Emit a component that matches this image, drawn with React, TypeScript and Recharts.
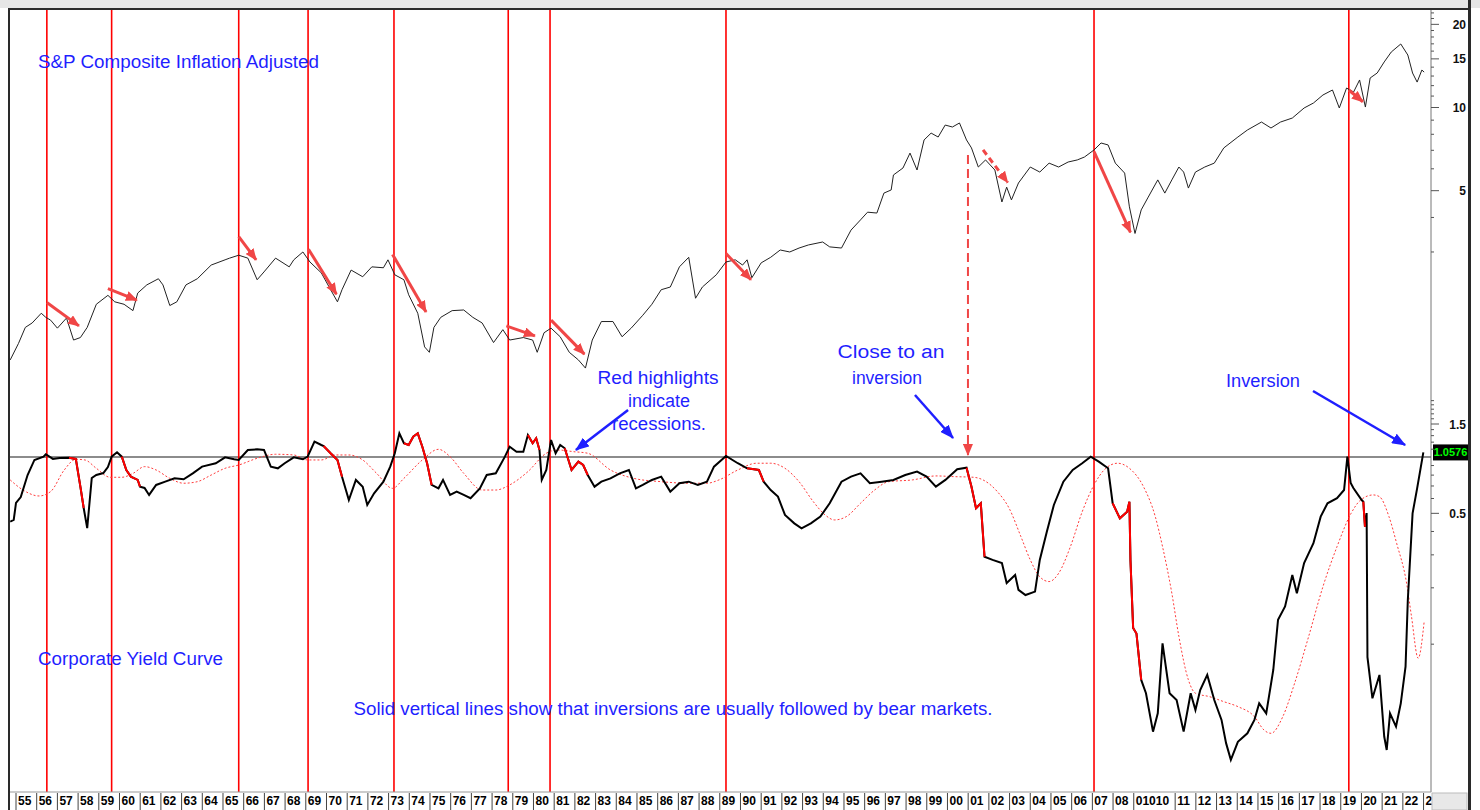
import React from "react";
import { ComposedChart, Line, XAxis, YAxis, ReferenceLine } from "recharts";

const FONT = "'Liberation Sans', Arial, Helvetica, sans-serif";
const W = 1480;
const H = 810;
const MARGIN = { top: 10, right: 0, bottom: 0, left: 10 };
const X_AXIS_H = 18;
const YIELD_AXIS_W = 40;
const PRICE_AXIS_W = 9;
const PLOT_RIGHT = W - MARGIN.right - YIELD_AXIS_W - PRICE_AXIS_W;
const PLOT_BOTTOM = H - MARGIN.bottom - X_AXIS_H;

const X_DOMAIN: [number, number] = [1954.71, 2023.36];
const PRICE_DOMAIN: [number, number] = [0.0333, 22.54];
const YIELD_DOMAIN: [number, number] = [0.01623, 244.2];

// S&P Composite, inflation adjusted: [year, value]
const spComposite: [number, number][] = [
  [1954.72, 1.22], [1955.12, 1.40], [1955.45, 1.60], [1955.78, 1.66], [1956.22, 1.80], [1956.44, 1.74],
  [1956.67, 1.70], [1957.00, 1.59], [1957.44, 1.73], [1957.78, 1.44], [1958.11, 1.47], [1958.44, 1.60],
  [1958.88, 1.94], [1959.44, 2.09], [1959.77, 1.98], [1960.22, 1.94], [1960.65, 1.84], [1960.88, 2.13],
  [1961.32, 2.28], [1961.88, 2.40], [1962.10, 2.28], [1962.43, 1.92], [1962.77, 1.98], [1963.21, 2.28],
  [1963.76, 2.40], [1964.43, 2.69], [1965.10, 2.81], [1965.32, 2.85], [1965.76, 2.92], [1966.20, 2.85],
  [1966.65, 2.38], [1966.98, 2.54], [1967.54, 2.85], [1968.20, 2.65], [1968.42, 2.81], [1968.86, 3.00],
  [1969.20, 2.76], [1969.75, 2.52], [1970.20, 2.19], [1970.53, 1.98], [1970.75, 2.19], [1971.19, 2.58],
  [1971.75, 2.44], [1972.19, 2.65], [1972.75, 2.63], [1972.97, 2.81], [1973.30, 2.48], [1973.74, 2.38],
  [1973.97, 2.10], [1974.41, 1.80], [1974.74, 1.36], [1974.97, 1.30], [1975.19, 1.60], [1975.52, 1.74],
  [1976.07, 1.84], [1976.63, 1.85], [1977.07, 1.74], [1977.52, 1.66], [1978.07, 1.41], [1978.52, 1.57],
  [1978.85, 1.44], [1979.51, 1.47], [1979.96, 1.44], [1980.18, 1.30], [1980.51, 1.53], [1980.85, 1.59],
  [1981.29, 1.48], [1981.73, 1.30], [1982.17, 1.22], [1982.51, 1.14], [1982.84, 1.44], [1983.28, 1.68],
  [1983.84, 1.68], [1984.28, 1.48], [1984.72, 1.59], [1985.28, 1.77], [1985.72, 1.94], [1986.17, 2.19],
  [1986.61, 2.24], [1987.05, 2.65], [1987.50, 2.87], [1987.83, 2.04], [1988.16, 2.24], [1988.83, 2.48],
  [1989.30, 2.76], [1989.75, 2.81], [1990.10, 2.69], [1990.32, 2.81], [1990.55, 2.42], [1991.00, 2.74],
  [1991.46, 2.87], [1991.92, 3.05], [1992.38, 3.00], [1992.83, 3.10], [1993.28, 3.18], [1993.97, 3.26],
  [1994.31, 3.13], [1994.88, 3.10], [1995.34, 3.60], [1995.80, 3.92], [1996.14, 4.18], [1996.59, 4.15],
  [1996.93, 4.90], [1997.28, 5.03], [1997.39, 5.70], [1997.85, 6.04], [1998.19, 6.84], [1998.53, 5.94],
  [1998.87, 7.63], [1999.21, 8.08], [1999.55, 7.82], [1999.89, 8.64], [2000.24, 8.50], [2000.58, 8.79],
  [2000.92, 7.63], [2001.16, 7.14], [2001.49, 6.09], [2001.84, 6.46], [2002.29, 5.94], [2002.63, 4.55],
  [2002.86, 5.15], [2003.09, 4.63], [2003.43, 5.33], [2004.00, 6.09], [2004.46, 5.84], [2004.91, 6.29],
  [2005.37, 6.09], [2005.83, 6.35], [2006.27, 6.46], [2006.62, 6.62], [2007.08, 7.02], [2007.42, 7.44],
  [2007.76, 7.32], [2008.11, 6.29], [2008.56, 5.79], [2008.79, 4.37], [2009.06, 3.50], [2009.36, 4.26],
  [2009.70, 4.74], [2010.16, 5.47], [2010.50, 4.90], [2010.84, 5.47], [2011.18, 6.09], [2011.41, 5.84],
  [2011.64, 5.11], [2011.98, 5.84], [2012.43, 6.09], [2012.89, 6.29], [2013.35, 7.14], [2014.03, 7.82],
  [2014.49, 8.29], [2015.17, 8.86], [2015.63, 8.43], [2016.09, 8.86], [2016.66, 9.16], [2017.23, 9.96],
  [2017.68, 10.38], [2018.14, 11.10], [2018.60, 11.57], [2018.93, 9.96], [2019.28, 11.76], [2019.62, 11.38],
  [2019.91, 12.58], [2020.19, 10.04], [2020.42, 12.79], [2020.76, 13.33], [2021.10, 14.62], [2021.44, 15.88],
  [2021.90, 16.98], [2022.24, 15.49], [2022.47, 13.33], [2022.69, 12.36], [2022.92, 13.67], [2023.03, 13.43],
];

// Corporate yield curve: [year, ratio]
const yieldCurve: [number, number][] = [
  [1954.72, 0.451], [1954.89, 0.461], [1955.00, 0.568], [1955.23, 0.611], [1955.56, 0.801], [1955.89, 0.964],
  [1956.33, 1.004], [1956.44, 1.034], [1956.78, 0.976], [1957.11, 0.988], [1957.56, 0.991], [1957.89, 0.976],
  [1958.11, 0.694], [1958.27, 0.534], [1958.44, 0.417], [1958.66, 0.772], [1958.88, 0.801], [1959.22, 0.821],
  [1959.44, 0.884], [1959.62, 1.004], [1959.88, 1.060], [1960.11, 1.004], [1960.33, 0.852], [1960.55, 0.785],
  [1960.88, 0.754], [1960.99, 0.694], [1961.21, 0.683], [1961.43, 0.627], [1961.77, 0.709], [1962.21, 0.738],
  [1962.66, 0.769], [1963.10, 0.760], [1963.54, 0.818], [1963.99, 0.888], [1964.65, 0.926], [1965.10, 0.996],
  [1965.54, 0.972], [1965.76, 0.964], [1966.20, 1.090], [1966.65, 1.099], [1966.98, 1.090], [1967.31, 0.888],
  [1967.65, 0.870], [1967.98, 0.926], [1968.42, 0.996], [1968.86, 0.972], [1969.09, 1.004], [1969.42, 1.207],
  [1969.75, 1.159], [1969.86, 1.145], [1970.20, 1.047], [1970.53, 0.964], [1970.75, 0.785], [1971.08, 0.589],
  [1971.42, 0.754], [1971.75, 0.694], [1971.97, 0.554], [1972.30, 0.640], [1972.75, 0.738], [1973.08, 0.888],
  [1973.30, 1.047], [1973.52, 1.338], [1973.74, 1.184], [1973.97, 1.159], [1974.19, 1.284], [1974.41, 1.338],
  [1974.63, 1.135], [1974.86, 0.926], [1975.08, 0.709], [1975.41, 0.680], [1975.63, 0.754], [1975.97, 0.627],
  [1976.29, 0.653], [1976.63, 0.627], [1976.96, 0.602], [1977.41, 0.680], [1977.74, 0.801], [1978.18, 0.818],
  [1978.62, 1.004], [1978.85, 1.135], [1979.18, 1.067], [1979.51, 1.067], [1979.73, 1.311], [1979.96, 1.184],
  [1980.13, 1.259], [1980.29, 1.090], [1980.40, 0.754], [1980.62, 0.852], [1980.85, 1.233], [1981.07, 1.047],
  [1981.29, 1.159], [1981.51, 1.113], [1981.84, 0.852], [1982.17, 0.944], [1982.40, 0.906], [1982.62, 0.801],
  [1982.95, 0.694], [1983.28, 0.738], [1983.72, 0.769], [1984.17, 0.818], [1984.61, 0.852], [1984.95, 0.680],
  [1985.28, 0.709], [1985.72, 0.754], [1986.17, 0.785], [1986.61, 0.653], [1987.05, 0.724], [1987.50, 0.738],
  [1987.94, 0.709], [1988.38, 0.738], [1988.72, 0.888], [1989.30, 1.012], [1989.87, 0.926], [1990.32, 0.870],
  [1990.89, 0.852], [1991.12, 0.738], [1991.46, 0.666], [1991.81, 0.614], [1992.15, 0.490], [1992.60, 0.442],
  [1992.95, 0.416], [1993.40, 0.442], [1993.86, 0.480], [1994.31, 0.566], [1994.88, 0.738], [1995.34, 0.785],
  [1995.80, 0.818], [1996.25, 0.724], [1996.82, 0.738], [1997.39, 0.754], [1997.96, 0.801], [1998.53, 0.835],
  [1998.99, 0.785], [1999.44, 0.694], [1999.90, 0.754], [2000.47, 0.860], [2000.92, 0.877], [2001.16, 0.694],
  [2001.38, 0.532], [2001.61, 0.566], [2001.79, 0.293], [2002.18, 0.282], [2002.63, 0.271], [2002.86, 0.212],
  [2003.27, 0.234], [2003.43, 0.195], [2003.77, 0.183], [2004.23, 0.191], [2004.46, 0.282], [2004.80, 0.399],
  [2005.14, 0.554], [2005.60, 0.738], [2006.05, 0.852], [2006.51, 0.926], [2006.92, 1.004], [2007.31, 0.944],
  [2007.76, 0.870], [2007.98, 0.566], [2008.33, 0.470], [2008.68, 0.510], [2008.79, 0.577], [2008.84, 0.282],
  [2008.97, 0.122], [2009.13, 0.114], [2009.36, 0.0644], [2009.59, 0.0547], [2009.93, 0.0341], [2010.16, 0.0427],
  [2010.39, 0.101], [2010.73, 0.0547], [2011.07, 0.0503], [2011.41, 0.0341], [2011.75, 0.0547], [2011.98, 0.0445],
  [2012.21, 0.0569], [2012.55, 0.0685], [2012.89, 0.0503], [2013.24, 0.0394], [2013.46, 0.0296], [2013.69, 0.0241],
  [2014.03, 0.0301], [2014.49, 0.0334], [2014.83, 0.0394], [2015.06, 0.0483], [2015.40, 0.0427], [2015.74, 0.0728],
  [2015.97, 0.135], [2016.31, 0.159], [2016.66, 0.234], [2016.88, 0.187], [2017.23, 0.271], [2017.68, 0.346],
  [2018.03, 0.480], [2018.36, 0.566], [2018.82, 0.602], [2019.16, 0.666], [2019.32, 1.004], [2019.48, 0.726],
  [2019.61, 0.683], [2020.01, 0.589], [2020.09, 0.577], [2020.17, 0.424], [2020.25, 0.502], [2020.29, 0.0853],
  [2020.53, 0.0514], [2020.87, 0.0685], [2021.10, 0.0321], [2021.22, 0.0272], [2021.38, 0.0427], [2021.67, 0.0363],
  [2021.90, 0.0483], [2022.13, 0.0758], [2022.24, 0.172], [2022.47, 0.500], [2022.69, 0.680], [2022.99, 1.0576],
];

// Smoothed yield curve (dotted red)
const yieldCurveAvg: [number, number][] = [
  [1954.72, 0.754], [1955.34, 0.666], [1956.11, 0.619], [1956.67, 0.653], [1957.33, 0.852], [1957.89, 0.972],
  [1958.33, 0.964], [1958.88, 0.870], [1959.55, 0.779], [1960.11, 0.779], [1960.66, 0.818], [1961.21, 0.888],
  [1961.77, 0.852], [1962.43, 0.769], [1963.10, 0.724], [1963.76, 0.738], [1964.43, 0.801], [1965.10, 0.870],
  [1965.76, 0.906], [1966.65, 0.984], [1967.54, 1.034], [1968.42, 1.025], [1969.09, 0.964], [1969.75, 0.964],
  [1970.42, 1.025], [1971.08, 1.025], [1971.75, 0.964], [1972.42, 0.818], [1973.19, 0.680], [1973.74, 0.769],
  [1974.63, 0.964], [1975.41, 1.099], [1975.97, 1.004], [1976.63, 0.818], [1977.52, 0.666], [1978.18, 0.666],
  [1978.85, 0.709], [1979.73, 0.835], [1980.62, 1.047], [1981.17, 1.090], [1981.95, 1.067], [1982.62, 1.047],
  [1983.72, 0.852], [1984.84, 0.769], [1986.17, 0.738], [1987.50, 0.724], [1988.38, 0.724], [1988.96, 0.754],
  [1989.87, 0.852], [1990.78, 0.926], [1991.46, 0.926], [1992.15, 0.870], [1992.83, 0.738], [1993.52, 0.577],
  [1994.09, 0.490], [1994.54, 0.461], [1995.11, 0.480], [1995.80, 0.566], [1996.48, 0.666], [1997.16, 0.738],
  [1998.30, 0.754], [1999.44, 0.792], [2000.35, 0.785], [2001.26, 0.779], [2001.72, 0.754], [2002.41, 0.653],
  [2002.98, 0.532], [2003.55, 0.375], [2004.00, 0.282], [2004.46, 0.229], [2004.91, 0.216], [2005.37, 0.239],
  [2005.94, 0.332], [2006.51, 0.510], [2007.08, 0.709], [2007.65, 0.870], [2008.22, 0.926], [2008.79, 0.870],
  [2009.47, 0.694], [2010.04, 0.480], [2010.39, 0.332], [2010.84, 0.187], [2011.18, 0.110], [2011.64, 0.0644],
  [2011.98, 0.0547], [2012.67, 0.0524], [2013.35, 0.0493], [2014.03, 0.0464], [2014.83, 0.0410], [2015.29, 0.0348],
  [2015.63, 0.0334], [2016.20, 0.0410], [2016.77, 0.0618], [2017.45, 0.110], [2018.14, 0.203], [2018.82, 0.332],
  [2019.50, 0.500], [2019.96, 0.589], [2020.57, 0.627], [2020.87, 0.614], [2021.33, 0.480], [2021.70, 0.346],
  [2022.18, 0.212], [2022.42, 0.140], [2022.74, 0.0841], [2023.03, 0.132],
];

// recession spans, highlighted red on the yield curve
const recessions: [number, number][] = [
  [1957.55, 1958.28], [1960.1, 1961.0], [1969.85, 1970.76], [1973.6, 1975.1], [1979.7, 1980.3],
  [1981.5, 1982.63], [1990.3, 1991.15], [2000.9, 2001.8], [2007.95, 2009.37], [2020.05, 2020.2],
];

// inversions -> solid red verticals
const inversions = [1956.49, 1959.62, 1965.76, 1969.11, 1973.26, 1978.78, 1980.8, 1989.3, 2007.08, 2019.39];
const nearInversion = { year: 2000.99, from: 6.73, to: 0.552 };

// bear market arrows on the price panel: [fromYear, fromValue, toYear, toValue]
const bearArrows: [number, number, number, number][] = [
  [1956.49, 1.97, 1958.04, 1.62], [1959.44, 2.21, 1960.84, 2.01], [1965.76, 3.41, 1966.6, 2.81],
  [1969.13, 3.07, 1970.48, 2.11], [1973.19, 2.94, 1974.81, 1.82], [1978.69, 1.62, 1980.07, 1.49],
  [1980.85, 1.70, 1982.46, 1.28], [1989.3, 2.96, 1990.51, 2.38], [2007.08, 6.92, 2008.84, 3.53],
  [2019.39, 11.57, 2020.07, 10.49],
];
const bearArrowDashed: [number, number, number, number] = [2001.72, 7.02, 2002.91, 5.35];

// callout arrows on the yield panel
const calloutArrows: [number, number, number, number][] = [
  [1984.57, 1.783, 1982.05, 1.09], [1998.43, 2.144, 2000.27, 1.263], [2017.66, 2.252, 2022.11, 1.159],
];

const FIRST_YEAR = 1955;
const yearLabels = [
  "55", "56", "57", "58", "59", "60", "61", "62", "63", "64", "65", "66", "67", "68", "69", "70", "71", "72",
  "73", "74", "75", "76", "77", "78", "79", "80", "81", "82", "83", "84", "85", "86", "87", "88", "89", "90",
  "91", "92", "93", "94", "95", "96", "97", "98", "99", "00", "01", "02", "03", "04", "05", "06", "07", "08",
  "01010", "", "11", "12", "13", "14", "15", "16", "17", "18", "19", "20", "21", "22", "2",
];
const yearTicks = yearLabels.map((_, i) => FIRST_YEAR + i);

const priceTicks = [3, 4, 5, 6, 7, 8, 9, 10, 11, 12, 13, 14, 15, 16, 17, 18, 19, 20, 21, 22];
const priceLabelled = [5, 10, 15, 20];
const lastYield = yieldCurve[yieldCurve.length - 1][1];
const yieldTicks = [0.1, 0.2, 0.3, 0.4, 0.5, 0.6, 0.7, 0.8, 0.9, lastYield, 1.1, 1.2, 1.3, 1.4, 1.5, 1.6, 1.7, 1.8, 1.9, 2];
const yieldLabelled = [0.5, 1.5];

const priceData = spComposite.map(([t, v]) => ({ t, v }));
const yieldData = yieldCurve.map(([t, v]) => ({
  t,
  v,
  r: recessions.some(([a, b]) => t >= a && t <= b) ? v : null,
}));
const avgData = yieldCurveAvg.map(([t, v]) => ({ t, v }));

const RED = "#ff0000";
const ARROW_RED = "#f04646";
const BLUE = "#1f1fff";

function YearTick(props: any) {
  const { x, payload } = props;
  const label = yearLabels[Math.round(payload.value) - FIRST_YEAR];
  if (!label) return <g />;
  return (
    <g>
      <line x1={x} x2={x} y1={PLOT_BOTTOM + 1} y2={H} stroke="#444" />
      <text x={x + 2} y={PLOT_BOTTOM + 13} fontFamily={FONT} fontSize={12} fontWeight="bold" fill="#000">
        {label}
      </text>
    </g>
  );
}

function PriceTick(props: any) {
  const { y, payload } = props;
  const major = priceLabelled.includes(payload.value);
  return (
    <g>
      <line x1={PLOT_RIGHT} x2={PLOT_RIGHT + (major ? 8 : 3)} y1={y} y2={y} stroke="#555" />
      {major && (
        <text x={PLOT_RIGHT + 35} y={y + 4.5} textAnchor="end" fontFamily={FONT} fontSize={12} fontWeight="bold" fill="#111">
          {payload.value}
        </text>
      )}
    </g>
  );
}

function YieldTick(props: any) {
  const { y, payload } = props;
  const v = payload.value;
  if (v === lastYield) {
    return (
      <g>
        <rect x={PLOT_RIGHT + 2} y={y - 8} width={35} height={16} fill="#000" />
        <text x={PLOT_RIGHT + 19.5} y={y + 4} textAnchor="middle" fontFamily={FONT} fontSize={11} fontWeight="bold" fill="#00ff00">
          {v.toFixed(4)}
        </text>
      </g>
    );
  }
  const major = yieldLabelled.includes(v);
  return (
    <g>
      <line x1={PLOT_RIGHT} x2={PLOT_RIGHT + (major ? 8 : 3)} y1={y} y2={y} stroke="#555" />
      {major && (
        <text x={PLOT_RIGHT + 35} y={y + 4.5} textAnchor="end" fontFamily={FONT} fontSize={12} fontWeight="bold" fill="#111">
          {v}
        </text>
      )}
    </g>
  );
}

// blue annotation text: [text, centerX, baseline, width]
const notes: [string, number, number, number][] = [
  ["Red highlights", 658, 384, 121],
  ["indicate", 659, 407, 62],
  ["recessions.", 659, 430, 94],
  ["Close to an", 891, 358, 107],
  ["inversion", 887, 384, 70],
  ["Inversion", 1263, 387, 74],
  ["Solid vertical lines show that inversions are usually followed by bear markets.", 673, 715, 639],
];

function Overlay() {
  return (
    <svg width={W} height={H} style={{ position: "absolute", left: 0, top: 0, pointerEvents: "none" }}>
      <defs>
        <marker id="head-red" viewBox="0 0 12 10" refX="11" refY="5" markerWidth="12" markerHeight="10" markerUnits="userSpaceOnUse" orient="auto">
          <path d="M0,0 L12,5 L0,10 Z" fill={ARROW_RED} />
        </marker>
        <marker id="head-blue" viewBox="0 0 14 11" refX="13" refY="5.5" markerWidth="14" markerHeight="11" markerUnits="userSpaceOnUse" orient="auto">
          <path d="M0,0 L14,5.5 L0,11 Z" fill={BLUE} />
        </marker>
      </defs>
      {/* window frame */}
      <rect x={0} y={0} width={W} height={8} fill="#e6e6e6" />
      <rect x={8} y={8} width={1462} height={2} fill="#2a2a2a" />
      <rect x={8} y={8} width={2} height={H - 8} fill="#2a2a2a" />
      <rect x={1468} y={0} width={3} height={H} fill="#2a2a2a" />
      <rect x={PLOT_RIGHT + 1} y={PLOT_BOTTOM + 1} width={1467 - PLOT_RIGHT - 1} height={H - PLOT_BOTTOM - 1} fill="#e8e8e8" stroke="#bbb" />
      <text x={38} y={68} fontFamily={FONT} fontSize={18} fill={BLUE} textLength={281} lengthAdjust="spacingAndGlyphs">
        S&amp;P Composite Inflation Adjusted
      </text>
      <text x={38} y={665} fontFamily={FONT} fontSize={18} fill={BLUE} textLength={185} lengthAdjust="spacingAndGlyphs">
        Corporate Yield Curve
      </text>
      {notes.map(([t, cx, by, w]) => (
        <text key={t} x={cx - w / 2} y={by} fontFamily={FONT} fontSize={18} fill={BLUE} textLength={w} lengthAdjust="spacingAndGlyphs">
          {t}
        </text>
      ))}
    </svg>
  );
}

export default function App() {
  return (
    <div style={{ position: "absolute", left: 0, top: 0, width: W, height: H, background: "#fff" }}>
      <ComposedChart width={W} height={H} margin={MARGIN} style={{ fontFamily: FONT }}>
        <XAxis
          dataKey="t"
          type="number"
          domain={X_DOMAIN}
          allowDataOverflow
          ticks={yearTicks}
          interval={0}
          height={X_AXIS_H}
          tickLine={false}
          tickSize={0}
          axisLine={{ stroke: "#999" }}
          tick={(p: any) => <YearTick {...p} />}
        />
        <YAxis
          yAxisId="yield"
          orientation="right"
          type="number"
          scale="log"
          domain={YIELD_DOMAIN}
          allowDataOverflow
          width={YIELD_AXIS_W}
          ticks={yieldTicks}
          interval={0}
          axisLine={false}
          tickLine={false}
          tick={(p: any) => <YieldTick {...p} />}
        />
        <YAxis
          yAxisId="price"
          orientation="right"
          type="number"
          scale="log"
          domain={PRICE_DOMAIN}
          allowDataOverflow
          width={PRICE_AXIS_W}
          ticks={priceTicks}
          interval={0}
          axisLine={false}
          tickLine={false}
          tick={(p: any) => <PriceTick {...p} />}
        />

        <ReferenceLine yAxisId="price" x={X_DOMAIN[1]} stroke="#777" ifOverflow="visible" />
        <ReferenceLine yAxisId="yield" y={1} stroke="#666" strokeWidth={1.3} />
        {inversions.map((yr) => (
          <ReferenceLine key={yr} yAxisId="price" x={yr} stroke={RED} strokeWidth={1.6} />
        ))}

        <Line yAxisId="price" data={priceData} dataKey="v" type="linear" stroke="#222" strokeWidth={1} dot={false} isAnimationActive={false} />
        <Line yAxisId="yield" data={avgData} dataKey="v" type="monotone" stroke="#ff3b3b" strokeWidth={1} strokeDasharray="2 2" dot={false} isAnimationActive={false} />
        <Line yAxisId="yield" data={yieldData} dataKey="v" type="linear" stroke="#000" strokeWidth={2} dot={false} isAnimationActive={false} />
        <Line yAxisId="yield" data={yieldData} dataKey="r" type="linear" stroke={RED} strokeWidth={2} dot={false} connectNulls={false} isAnimationActive={false} />

        <ReferenceLine
          yAxisId="price"
          segment={[{ x: nearInversion.year, y: nearInversion.from }, { x: nearInversion.year, y: nearInversion.to }]}
          stroke={ARROW_RED}
          strokeWidth={2}
          strokeDasharray="9 5"
          markerEnd="url(#head-red)"
          ifOverflow="visible"
        />
        {bearArrows.map(([x1, y1, x2, y2]) => (
          <ReferenceLine
            key={x1}
            yAxisId="price"
            segment={[{ x: x1, y: y1 }, { x: x2, y: y2 }]}
            stroke={ARROW_RED}
            strokeWidth={3}
            markerEnd="url(#head-red)"
            ifOverflow="visible"
          />
        ))}
        <ReferenceLine
          yAxisId="price"
          segment={[{ x: bearArrowDashed[0], y: bearArrowDashed[1] }, { x: bearArrowDashed[2], y: bearArrowDashed[3] }]}
          stroke={ARROW_RED}
          strokeWidth={3}
          strokeDasharray="6 4"
          markerEnd="url(#head-red)"
          ifOverflow="visible"
        />
        {calloutArrows.map(([x1, y1, x2, y2]) => (
          <ReferenceLine
            key={x1}
            yAxisId="yield"
            segment={[{ x: x1, y: y1 }, { x: x2, y: y2 }]}
            stroke={BLUE}
            strokeWidth={2.5}
            markerEnd="url(#head-blue)"
            ifOverflow="visible"
          />
        ))}
      </ComposedChart>
      <Overlay />
    </div>
  );
}
